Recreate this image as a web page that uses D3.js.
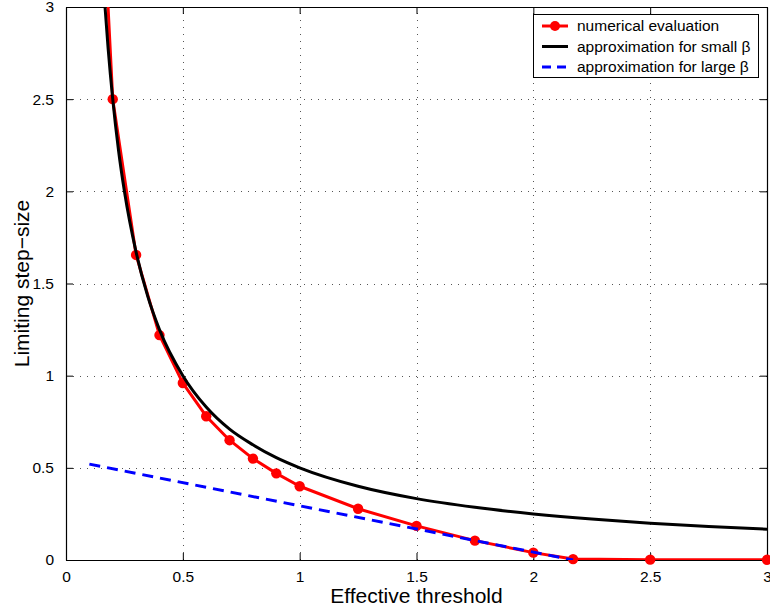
<!DOCTYPE html>
<html lang="en">
<head>
  <meta charset="UTF-8">
  <title>Limiting step-size vs effective threshold</title>
  <script src="https://d3js.org/d3.v7.min.js"></script>
  <style>
    body { margin: 0; background: #fff; }
    text { font-family: "Liberation Sans", Arial, Helvetica, sans-serif; fill: #000; }
  </style>
</head>
<body>
<script>
  // numerical evaluation (red, with markers)
  const numX = [0.1, 0.2, 0.3, 0.4, 0.5, 0.6, 0.7, 0.8, 0.9, 1.0, 1.25, 1.5, 1.75, 2.0, 2.17, 2.5, 3.0];
  const numY = [5.0, 2.5, 1.655, 1.22, 0.96, 0.78, 0.65, 0.55, 0.47, 0.40, 0.278, 0.185, 0.105, 0.04, 0.005, 0.002, 0.001];

  // approximation for small beta (black)
  const smallX = [0.16, 0.18, 0.2, 0.225, 0.25, 0.3, 0.35, 0.4, 0.5, 0.6, 0.7, 0.8, 0.9, 1.0, 1.25, 1.5, 1.75, 2.0, 2.25, 2.5, 2.75, 3.0];
  const smallY = [3.12, 2.78, 2.5, 2.22, 2.0, 1.67, 1.43, 1.25, 1.0, 0.83, 0.71, 0.625, 0.555, 0.5, 0.4, 0.333, 0.286, 0.25, 0.222, 0.2, 0.182, 0.167];

  // approximation for large beta (blue dashed)
  const largeX = [0.1, 2.17];
  const largeY = [0.52, 0.0];

  const xTicks = [0, 0.5, 1, 1.5, 2, 2.5, 3];
  const yTicks = [0, 0.5, 1, 1.5, 2, 2.5, 3];

  const W = 770, H = 611;
  const mLeft = 66, mRight = 767, mTop = 7, mBottom = 560;

  const svg = d3.select('body').append('svg')
    .attr('width', W)
    .attr('height', H);

  const x = d3.scaleLinear().domain([0, 3]).range([mLeft, mRight]);
  const y = d3.scaleLinear().domain([0, 3]).range([mBottom, mTop]);

  svg.append('defs').append('clipPath').attr('id', 'plot')
    .append('rect')
    .attr('x', mLeft).attr('y', mTop)
    .attr('width', mRight - mLeft).attr('height', mBottom - mTop);

  // grid
  const grid = svg.append('g')
    .attr('stroke', '#555')
    .attr('stroke-width', 1)
    .attr('stroke-dasharray', '1,6');
  grid.selectAll('.vg').data(xTicks.slice(1, -1)).enter().append('line')
    .attr('x1', d => Math.round(x(d)) + 0.5).attr('x2', d => Math.round(x(d)) + 0.5)
    .attr('y1', mBottom).attr('y2', mTop);
  grid.selectAll('.hg').data(yTicks.slice(1, -1)).enter().append('line')
    .attr('y1', d => Math.round(y(d)) + 0.5).attr('y2', d => Math.round(y(d)) + 0.5)
    .attr('x1', mLeft).attr('x2', mRight);

  // axes (ticks pointing inward, box on all sides)
  const tickLen = 7;
  const xAxisB = d3.axisBottom(x).tickValues(xTicks).tickSizeInner(-tickLen).tickSizeOuter(0).tickPadding(tickLen + 4)
    .tickFormat(d3.format('~g'));
  const xAxisT = d3.axisTop(x).tickValues(xTicks).tickSizeInner(-tickLen).tickSizeOuter(0).tickFormat('');
  const yAxisL = d3.axisLeft(y).tickValues(yTicks).tickSizeInner(-tickLen).tickSizeOuter(0).tickPadding(tickLen + 5)
    .tickFormat(d3.format('~g'));
  const yAxisR = d3.axisRight(y).tickValues(yTicks).tickSizeInner(-tickLen).tickSizeOuter(0).tickFormat('');

  function style(g) {
    g.selectAll('.domain').attr('stroke', '#000').attr('stroke-width', 1.2);
    g.selectAll('.tick line').attr('stroke', '#000');
    g.selectAll('.tick text')
      .style('font-family', '"Liberation Sans", Arial, sans-serif')
      .style('font-size', '15.5px')
      .attr('fill', '#000');
  }

  svg.append('g').attr('transform', `translate(0,${mBottom})`).call(xAxisB).call(style);
  svg.append('g').attr('transform', `translate(0,${mTop})`).call(xAxisT).call(style);
  svg.append('g').attr('transform', `translate(${mLeft},0)`).call(yAxisL).call(style);
  svg.append('g').attr('transform', `translate(${mRight},0)`).call(yAxisR).call(style);

  // series
  const lineGen = d3.line().x(d => x(d[0])).y(d => y(d[1]));
  const numData = numX.map((v, i) => [v, numY[i]]);
  const smallData = smallX.map((v, i) => [v, smallY[i]]);
  const largeData = largeX.map((v, i) => [v, largeY[i]]);

  svg.append('g').attr('clip-path', 'url(#plot)').append('path')
    .datum(numData)
    .attr('d', lineGen)
    .attr('fill', 'none')
    .attr('stroke', '#ff0000')
    .attr('stroke-width', 3)
    .attr('stroke-linejoin', 'round');

  svg.append('g').selectAll('circle')
    .data(numData.filter(d => d[1] <= 3))
    .enter().append('circle')
    .attr('cx', d => x(d[0]))
    .attr('cy', d => y(d[1]))
    .attr('r', 5.2)
    .attr('fill', '#ff0000');

  svg.append('g').attr('clip-path', 'url(#plot)').append('path')
    .datum(smallData)
    .attr('d', d3.line().x(d => x(d[0])).y(d => y(d[1])).curve(d3.curveMonotoneX))
    .attr('fill', 'none')
    .attr('stroke', '#000')
    .attr('stroke-width', 3);

  svg.append('g').attr('clip-path', 'url(#plot)').append('path')
    .datum(largeData)
    .attr('d', lineGen)
    .attr('fill', 'none')
    .attr('stroke', '#0000ff')
    .attr('stroke-width', 3)
    .attr('stroke-dasharray', '11,7');

  // axis titles
  svg.append('text')
    .attr('x', (mLeft + mRight) / 2)
    .attr('y', 603)
    .attr('text-anchor', 'middle')
    .style('font-size', '21px')
    .text('Effective threshold');

  svg.append('text')
    .attr('transform', `translate(29,${(mTop + mBottom) / 2}) rotate(-90)`)
    .attr('text-anchor', 'middle')
    .style('font-size', '21px')
    .text('Limiting step\u2212size');

  // legend
  const legend = svg.append('g');
  legend.append('rect')
    .attr('x', 533.5).attr('y', 14.5)
    .attr('width', 225).attr('height', 63)
    .attr('fill', '#fff')
    .attr('stroke', '#000')
    .attr('stroke-width', 1);

  const legendItems = [
    { label: 'numerical evaluation', color: '#ff0000', dash: null, marker: true, w: 3 },
    { label: 'approximation for small \u03b2', color: '#000', dash: null, marker: false, w: 3 },
    { label: 'approximation for large \u03b2', color: '#0000ff', dash: '9,6', marker: false, w: 3 }
  ];
  const rowY = [26, 46.5, 67];
  legendItems.forEach((it, i) => {
    const g = legend.append('g');
    g.append('line')
      .attr('x1', 542).attr('x2', 568)
      .attr('y1', rowY[i]).attr('y2', rowY[i])
      .attr('stroke', it.color)
      .attr('stroke-width', it.w)
      .attr('stroke-dasharray', it.dash);
    if (it.marker) {
      g.append('circle').attr('cx', 555).attr('cy', rowY[i]).attr('r', 5).attr('fill', it.color);
    }
    g.append('text')
      .attr('x', 577)
      .attr('y', rowY[i] + 5)
      .style('font-size', '15.5px')
      .text(it.label);
  });
</script>
</body>
</html>
